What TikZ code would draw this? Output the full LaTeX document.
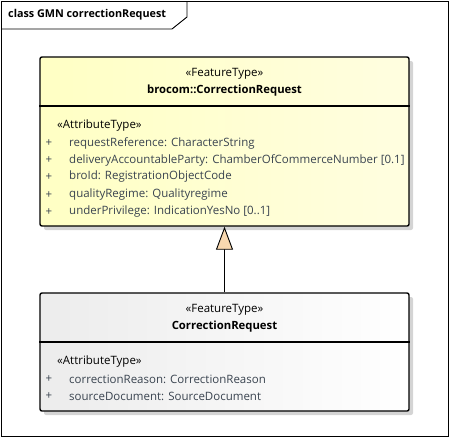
\documentclass[tikz,border=0pt]{standalone}
\usepackage{fontspec}
\setmainfont{Open Sans}
\usepackage{xcolor}
\usepackage{tikz}
\usetikzlibrary{arrows.meta,shadows}
\definecolor{ink}{HTML}{000000}
\definecolor{attr}{HTML}{3A4450}
\definecolor{yelL}{HTML}{FFFFC4}
\definecolor{yelR}{HTML}{FFFEE0}
\definecolor{grayL}{HTML}{ECECEC}
\definecolor{grayR}{HTML}{FFFFFF}
\definecolor{shade}{HTML}{D4D4D4}
\definecolor{tri}{HTML}{F8D8B0}
\tikzset{
  frame/.style={draw=ink, line width=0.9pt},
  classbox/.style={draw=ink, line width=1.4pt, rounded corners=2pt, inner sep=0pt,
    minimum width=369pt},
  boxshadow/.style={fill=shade, rounded corners=2pt},
  sep/.style={draw=ink, line width=1.4pt},
  stereo/.style={text=ink, font=\fontsize{11.5}{13}\selectfont, inner sep=0pt},
  cname/.style={text=ink, font=\fontsize{11.3}{13}\selectfont\bfseries, inner sep=0pt},
  tabname/.style={text=ink, font=\fontsize{10.8}{13}\selectfont\bfseries, inner sep=0pt},
  attrl/.style={text=attr, font=\fontsize{11.5}{13}\selectfont, inner sep=0pt, anchor=west},
  vis/.style={text=attr, font=\fontsize{11.5}{13}\selectfont, inner sep=0pt},
  gen/.style={draw=ink, line width=0.9pt,
    -{Triangle[open, length=23pt, width=17pt, fill=tri, line width=0.9pt]}}
}
\begin{document}
\begin{tikzpicture}[x=1pt,y=-1pt]
  \useasboundingbox (0,0) rectangle (449,437);
  % diagram frame and name tab
  \draw[frame] (1,1) rectangle (448,436);
  \draw[frame] (1,29) -- (172,29) -- (187,17) -- (187,1);
  \node[tabname, anchor=west] (title) at (8,15) {class GMN correctionRequest};

  % brocom::CorrectionRequest
  \fill[boxshadow] (44,61) rectangle (413,230);
  \node[classbox, minimum height=169pt, left color=yelL, right color=yelR]
    (base) at (224.5,141.5) {};
  \draw[sep] (base.west |- 0,106) -- (base.east |- 0,106);
  \node[stereo] (baseSt) at (224.5,74) {«FeatureType»};
  \node[cname] (baseNm) at (224.5,91) {brocom::CorrectionRequest};
  \node[stereo, anchor=west] (baseAt) at (57,126) {«AttributeType»};
  \foreach \y/\txt [count=\i] in {
      143/{requestReference: CharacterString},
      160/{deliveryAccountableParty: ChamberOfCommerceNumber [0.1]},
      177/{broId: RegistrationObjectCode},
      195/{qualityRegime: Qualityregime},
      212/{underPrivilege: IndicationYesNo [0..1]}} {
    \node[vis] (baseV\i) at (49,\y) {+};
    \node[attrl] (baseA\i) at (69,\y) {\txt};
  }

  % CorrectionRequest
  \fill[boxshadow] (44,297) rectangle (413,415);
  \node[classbox, minimum height=118pt, left color=grayL, right color=grayR]
    (spec) at (224.5,352) {};
  \draw[sep] (spec.west |- 0,342) -- (spec.east |- 0,342);
  \node[stereo] (specSt) at (224.5,310) {«FeatureType»};
  \node[cname] (specNm) at (224.5,327) {CorrectionRequest};
  \node[stereo, anchor=west] (specAt) at (57,362) {«AttributeType»};
  \foreach \y/\txt [count=\i] in {
      379/{correctionReason: CorrectionReason},
      396/{sourceDocument: SourceDocument}} {
    \node[vis] (specV\i) at (49,\y) {+};
    \node[attrl] (specA\i) at (69,\y) {\txt};
  }

  % generalization
  \draw[gen] (spec.north) -- (base.south);
\end{tikzpicture}
\end{document}
